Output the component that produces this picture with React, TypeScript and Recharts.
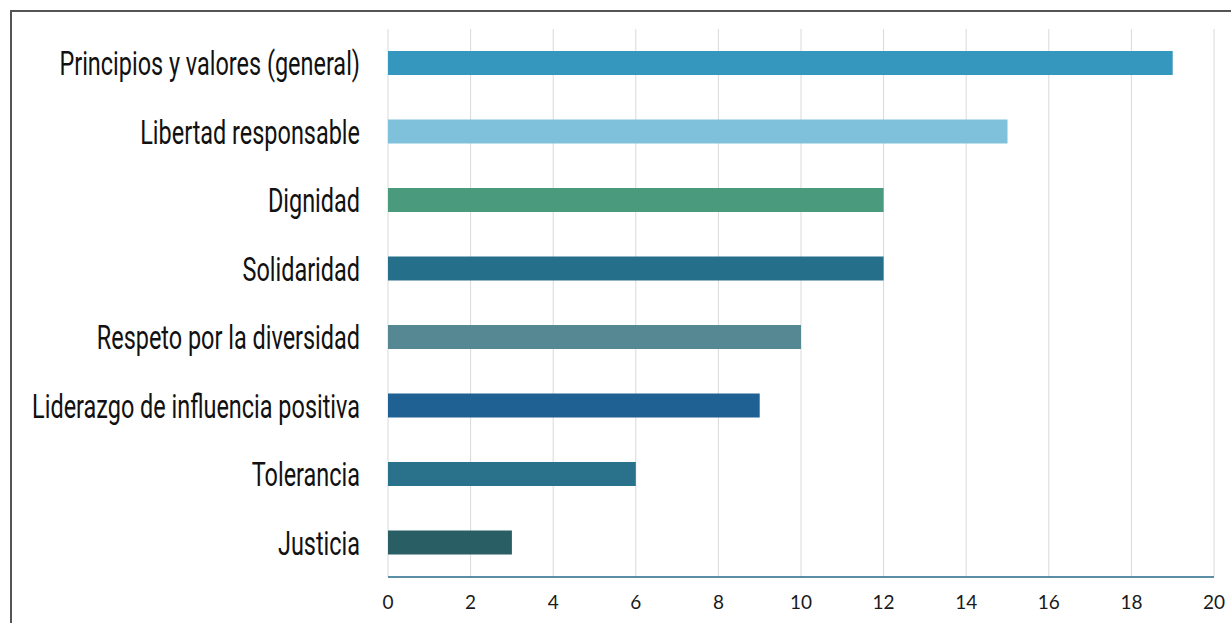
import { BarChart, Bar, XAxis, YAxis, CartesianGrid, Cell } from "recharts";

const categories = [
  "Principios y valores (general)",
  "Libertad responsable",
  "Dignidad",
  "Solidaridad",
  "Respeto por la diversidad",
  "Liderazgo de influencia positiva",
  "Tolerancia",
  "Justicia",
];
const counts = [19, 15, 12, 12, 10, 9, 6, 3];
const colors = ["#3596be", "#7fc0da", "#4a9a7e", "#266f8a", "#568894", "#1f6193", "#2a718b", "#285e64"];
const xTicks = [0, 2, 4, 6, 8, 10, 12, 14, 16, 18, 20];

const data = categories.map((name, i) => ({ name, value: counts[i] }));

// narrow category labels: squeeze the text horizontally around its right edge
function CategoryTick({ x, y, payload }: any) {
  return (
    <g transform={`translate(${x},${y}) scale(0.69,1)`}>
      <text textAnchor="end" dy="0.36em" fill="#111" fontSize={34} fontFamily="Roboto">
        {payload.value}
      </text>
    </g>
  );
}

export default function App() {
  return (
    <div style={{ position: "absolute", left: 10, top: 10, width: 1240, height: 640, borderTop: "2px solid #555", borderLeft: "2px solid #555", background: "#fff" }}>
      <BarChart width={1219} height={612} data={data} layout="vertical" margin={{ top: 17, right: 17, left: 0, bottom: 17 }}>
        <CartesianGrid horizontal={false} stroke="#d9d9d9" />
        <XAxis
          type="number"
          domain={[0, 20]}
          ticks={xTicks}
          height={30}
          tickLine={false}
          axisLine={{ stroke: "#25688a", strokeWidth: 1.5 }}
          tickMargin={13}
          tick={{ fill: "#1a1a1a", fontSize: 19, fontFamily: "Lato" }}
        />
        <YAxis
          type="category"
          dataKey="name"
          width={376}
          tickLine={false}
          axisLine={false}
          tickMargin={22}
          tick={<CategoryTick />}
        />
        <Bar dataKey="value" barSize={24} isAnimationActive={false}>
          {data.map((d, i) => <Cell key={d.name} fill={colors[i]} />)}
        </Bar>
      </BarChart>
    </div>
  );
}
